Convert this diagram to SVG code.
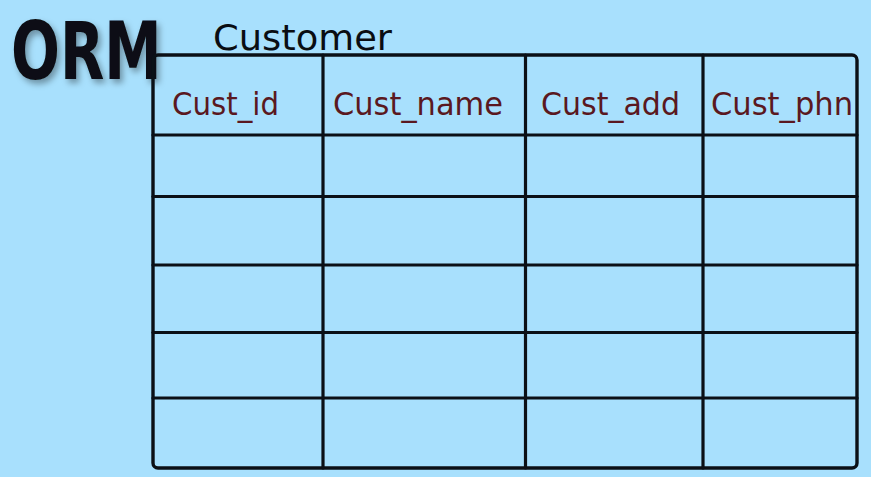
<svg xmlns="http://www.w3.org/2000/svg" width="871" height="477" viewBox="0 0 871 477">
  <style>
    .grid line { stroke: #0b1016; stroke-width: 3.2; stroke-linecap: round; }
    .frame { fill: none; stroke: #0b1016; stroke-width: 3.4; }
    .hdr { font-family: "DejaVu Sans", "Liberation Sans", sans-serif; font-size: 32px; fill: #5a1820; }
    .title { font-family: "DejaVu Sans", "Liberation Sans", sans-serif; font-size: 35px; fill: #0a0d12; }
    .orm { font-family: "DejaVu Sans", "Liberation Sans", sans-serif; font-weight: bold; font-size: 80px; fill: #0a0d12; }
  </style>
  <defs>
    <filter id="shadow" x="-10%" y="-10%" width="130%" height="140%">
      <feDropShadow dx="3" dy="4" stdDeviation="3" flood-color="#000000" flood-opacity="0.35"/>
    </filter>
  </defs>
  <rect width="871" height="477" fill="#a8e0fd"/>

  <g id="orm-label" filter="url(#shadow)">
    <text class="orm" transform="translate(11,79) scale(0.72,1)" x="0" y="0">ORM</text>
  </g>

  <g id="table-title">
    <text class="title" x="213" y="50" textLength="179" lengthAdjust="spacingAndGlyphs">Customer</text>
  </g>

  <g id="customer-table">
    <rect class="frame" x="153" y="55" width="704" height="413" rx="5"/>
    <g class="grid">
      <line x1="153" y1="135" x2="857" y2="135"/>
      <line x1="153" y1="196.5" x2="857" y2="196.5"/>
      <line x1="153" y1="265" x2="857" y2="265"/>
      <line x1="153" y1="332.5" x2="857" y2="332.5"/>
      <line x1="153" y1="398" x2="857" y2="398"/>
      <line x1="323" y1="55" x2="323" y2="468"/>
      <line x1="525.5" y1="55" x2="525.5" y2="468"/>
      <line x1="703" y1="55" x2="703" y2="468"/>
    </g>
    <g id="headers">
      <text class="hdr" x="172" y="115" textLength="107" lengthAdjust="spacingAndGlyphs">Cust_id</text>
      <text class="hdr" x="333" y="115" textLength="170" lengthAdjust="spacingAndGlyphs">Cust_name</text>
      <text class="hdr" x="541" y="115" textLength="139" lengthAdjust="spacingAndGlyphs">Cust_add</text>
      <text class="hdr" x="711" y="115" textLength="142" lengthAdjust="spacingAndGlyphs">Cust_phn</text>
    </g>
  </g>
</svg>
